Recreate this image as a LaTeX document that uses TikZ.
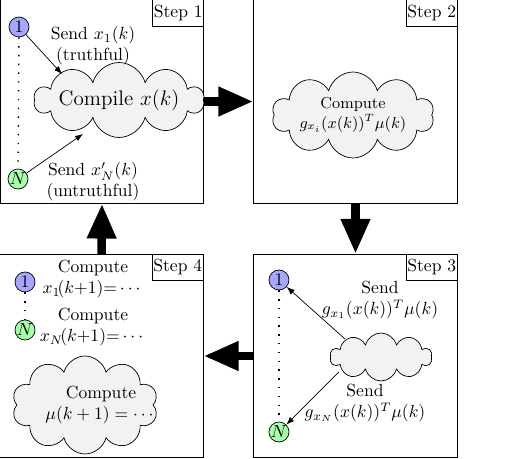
\documentclass[tikz,border=0pt]{standalone}
\usepackage{amsmath,amssymb}
\usepackage{xcolor}
\usepackage{tikz}
\usetikzlibrary{arrows.meta,shapes.symbols}
\tikzset{
  panel/.style={draw,thin,minimum width=4.07cm,minimum height=4.07cm,inner sep=0pt},
  steplbl/.style={draw,thin,anchor=north east,fill=white,inner xsep=0.6pt,inner ysep=3pt},
  agent/.style={circle,draw,thin,minimum size=0.4cm,inner sep=0pt},
  fst/.style={agent,fill=blue!35},
  lst/.style={agent,fill=green!35},
  puff/.style={cloud,draw,thin,fill=gray!10,cloud puffs=10,cloud ignores aspect,inner sep=0pt,align=center},
  txt/.style={align=center,inner sep=1pt},
  msg/.style={thin,-{Latex[length=1.6mm,width=1.2mm]}},
  dots/.style={line width=0.8pt,dash pattern=on 0.8pt off 4.2pt},
  big/.style={line width=0.17cm,-{Triangle[length=0.7cm,width=0.55cm]}}
}

\begin{document}
\begin{tikzpicture}[x=0.02cm,y=-0.02cm]
\useasboundingbox (0,0) rectangle (512,459);
\node[panel] (p1) at (102,101.5) {}; \node[steplbl] (l1) at (p1.north east) {Step 1};
\node[panel] (p2) at (355.5,101.5) {}; \node[steplbl] (l2) at (p2.north east) {Step 2};
\node[panel] (p3) at (355.5,356) {}; \node[steplbl] (l3) at (p3.north east) {Step 3};
\node[panel] (p4) at (101.5,356) {}; \node[steplbl] (l4) at (p4.north east) {Step 4};
\draw[big] (p1.east) -- (p2.west); \draw[big] (p2.south) -- (p3.north);
\draw[big] (p3.west) -- (p4.east); \draw[big] (p4.north) -- (p1.south);

\node[fst] (a1) at (19,27) {1}; \node[lst] (aN) at (18,179) {$N$};
\draw[dots] (a1) -- (aN);
\node[puff,minimum width=3.36cm,minimum height=1.5cm,font=\large] (c1) at (119,100) {Compile $x(k)$};
\node[txt] (t1) at (93,46) {Send $x_1(k)$\\(truthful)};
\node[txt] (tN) at (93,182) {Send $x'_N(k)$\\(untruthful)};
\coordinate (e1) at (62,74); \coordinate (eN) at (83,134);
\draw[msg] (a1) -- (e1); \draw[msg] (aN) -- (eN);

\node[puff,minimum width=3.24cm,minimum height=1.72cm,font=\small] (c2) at (353,115) {Compute\\$g_{x_i}(x(k))^T\mu(k)$};

\node[fst] (b1) at (279,280) {1}; \node[lst] (bN) at (279,432) {$N$};
\draw[dots] (b1) -- (bN);
\node[puff,minimum width=2.04cm,minimum height=0.96cm] (c3) at (381,357) {};
\coordinate (f1) at (345,339); \coordinate (fN) at (339,372);
\draw[msg] (f1) -- (b1); \draw[msg] (fN) -- (bN);
\node[txt] (u1) at (380,300) {Send\\$g_{x_1}(x(k))^T\mu(k)$};
\node[txt] (uN) at (365,403) {Send\\$g_{x_N}(x(k))^T\mu(k)$};

\node[fst] (d1) at (25,282) {1}; \node[lst] (dN) at (25,330) {$N$};
\draw[dots] (d1) -- (dN);
\node[txt] (v1) at (93,279) {Compute\\$x_1\!(k{+}1){=}\cdots$};
\node[txt] (vN) at (93,327) {Compute\\$x_N\!(k{+}1){=}\cdots$};
\node[puff,minimum width=2.92cm,minimum height=1.96cm] (c4) at (85,405) {};
\node[txt] (m4) at (101,405) {Compute\\$\mu(k+1)=\cdots$};
\end{tikzpicture}
\end{document}
